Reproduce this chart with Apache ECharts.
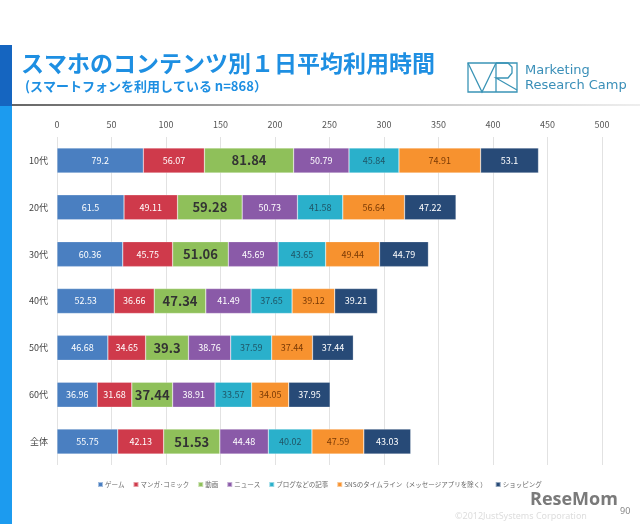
<!DOCTYPE html>
<html><head><meta charset="utf-8">
<script src="https://cdn.jsdelivr.net/npm/echarts@6/dist/echarts.min.js"></script>
<style>html,body{margin:0;padding:0;background:#fff}#c{width:640px;height:524px}</style>
</head><body><div id="c"></div>
<script>
const categories = ['10代','20代','30代','40代','50代','60代','全体'];
const seriesNames = ['ゲーム','マンガ･コミック','動画','ニュース','ブログなどの記事','SNSのタイムライン（メッセージアプリを除く）','ショッピング'];
const game     = [79.2, 61.5, 60.36, 52.53, 46.68, 36.96, 55.75];
const manga    = [56.07, 49.11, 45.75, 36.66, 34.65, 31.68, 42.13];
const video    = [81.84, 59.28, 51.06, 47.34, 39.3, 37.44, 51.53];
const news     = [50.79, 50.73, 45.69, 41.49, 38.76, 38.91, 44.48];
const blog     = [45.84, 41.58, 43.65, 37.65, 37.59, 33.57, 40.02];
const sns      = [74.91, 56.64, 49.44, 39.12, 37.44, 34.05, 47.59];
const shopping = [53.1, 47.22, 44.79, 39.21, 37.44, 37.95, 43.03];
const tickValues = [0,50,100,150,200,250,300,350,400,450,500];

const colors = ['#4a7fc1','#cf3a4b','#8fc05a','#8a5aa8','#2ab0cb','#f7922f','#274a77'];
const labelColors = ['#ffffff','#ffffff','#333333','#ffffff','#1f5566','#7a3a05','#ffffff'];
const allData = [game, manga, video, news, blog, sns, shopping];
const FONT = '"Noto Sans CJK JP", "Noto Sans", sans-serif';

const chart = echarts.init(document.getElementById('c'));
const series = allData.map((d, i) => ({
  name: seriesNames[i], type: 'bar', stack: 'total', data: d, barWidth: 25,
  itemStyle: { color: colors[i], borderColor: 'rgba(255,255,255,0.5)', borderWidth: 0.5 },
  label: {
    show: true, position: 'inside', color: labelColors[i], fontFamily: FONT,
    fontSize: i === 2 ? 13 : 9, fontWeight: i === 2 ? 'bold' : 'normal',
    formatter: p => String(p.value)
  }
}));

chart.setOption({
  animation: false,
  textStyle: { fontFamily: FONT },
  grid: { left: 57, right: 38, top: 137, height: 328 },
  xAxis: {
    type: 'value', position: 'top', min: 0, max: 500, interval: 50,
    axisLine: { show: false }, axisTick: { show: false },
    axisLabel: { color: '#555', fontSize: 9, margin: 8, fontFamily: FONT,
      formatter: v => tickValues.includes(v) ? String(v) : '' },
    splitLine: { lineStyle: { color: '#e2e2e2', width: 1 } }
  },
  yAxis: {
    type: 'category', data: categories, inverse: true,
    axisLine: { show: false }, axisTick: { show: false },
    axisLabel: { color: '#444', fontSize: 9, margin: 9, fontFamily: FONT }
  },
  legend: {
    data: seriesNames, top: 476, left: 92, width: 540, itemWidth: 5, itemHeight: 5, itemGap: 8,
    icon: 'rect', textStyle: { color: '#666', fontSize: 6.5, fontFamily: FONT, padding: [0,0,0,-3] }
  },
  series: series,
  graphic: [
    { type: 'rect', shape: { x: 0, y: 45, width: 12, height: 61 }, style: { fill: '#1565c0' } },
    { type: 'rect', shape: { x: 0, y: 106, width: 12, height: 418 }, style: { fill: '#1c9bef' } },
    { type: 'rect', shape: { x: 12, y: 104, width: 628, height: 2 },
      style: { fill: new echarts.graphic.LinearGradient(0,0,1,0,[{offset:0,color:'#666'},{offset:0.5,color:'#bbb'},{offset:1,color:'#eee'}]) } },
    { type: 'text', left: 21, top: 52, style: { text: 'スマホのコンテンツ別１日平均利用時間', fill: '#1e8fe2', font: 'bold 23px "Noto Sans CJK JP"' } },
    { type: 'text', left: 25, top: 80, style: { text: '(スマートフォンを利用している n=868）', fill: '#1e8fe2', font: 'bold 13px "Noto Sans CJK JP"' } },
    { type: 'rect', shape: { x: 468, y: 63, width: 49, height: 29 }, style: { fill: 'none', stroke: '#3a94b6', lineWidth: 1.3 } },
    { type: 'polyline', shape: { points: [[468,63],[482,92],[496,63]] }, style: { fill: 'none', stroke: '#3a94b6', lineWidth: 1.3 } },
    { type: 'polyline', shape: { points: [[496,63],[496,92]] }, style: { fill: 'none', stroke: '#3a94b6', lineWidth: 1.3 } },
    { type: 'polyline', shape: { points: [[496,63],[508,63],[512,67],[512,73],[508,78],[496,78],[517,90]] }, style: { fill: 'none', stroke: '#3a94b6', lineWidth: 1.3 } },
    { type: 'text', left: 525, top: 64, style: { text: 'Marketing', fill: '#3a8fb8', font: '13px "DejaVu Sans"' } },
    { type: 'text', left: 525, top: 79, style: { text: 'Research Camp', fill: '#3a8fb8', font: '13px "DejaVu Sans"' } },
    { type: 'text', left: 530, top: 491, style: { text: 'ReseMom', fill: '#7a7a7a', font: 'bold 18px "Open Sans"' } },
    { type: 'text', left: 455, top: 512, style: { text: '©2012JustSystems Corporation', fill: '#dddddd', font: '9px "Noto Sans"' } },
    { type: 'text', left: 620, top: 507, style: { text: '90', fill: '#888', font: '9px "Noto Sans"' } }
  ]
});
</script></body></html>
